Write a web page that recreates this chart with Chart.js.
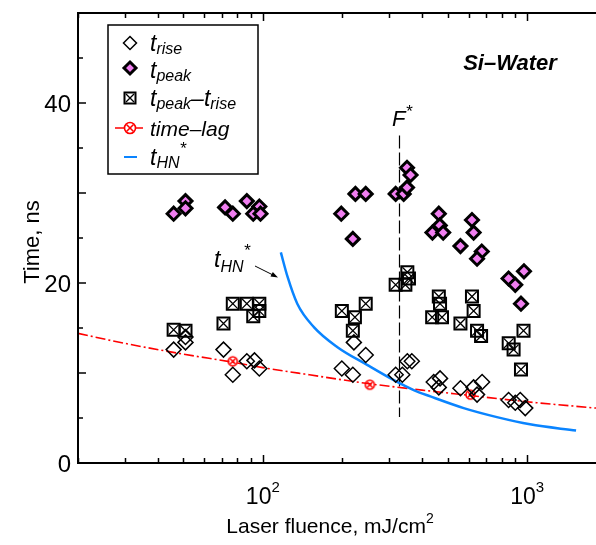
<!DOCTYPE html>
<html lang="en">
<head>
<meta charset="UTF-8" />
<title>Si–Water: time vs laser fluence</title>
<script src="https://cdn.jsdelivr.net/npm/chart.js"></script>
<style>
  body { margin: 0; background: #fff; }
  canvas { display: block; }
</style>
</head>
<body>
<canvas id="timeChart" width="596" height="545"></canvas>
<script>
// t_rise, open diamonds
const riseFluence = [46, 51, 51, 71, 77, 87, 93, 97, 199, 219, 221, 245, 318, 337, 352, 366, 443, 468, 463, 559, 627, 675, 646, 850, 901, 941, 983];
const riseTime    = [12.6, 14.0, 13.4, 12.6, 9.8, 11.3, 11.4, 10.5, 10.5, 9.8, 13.4, 12.0, 9.8, 9.8, 11.3, 11.3, 9.0, 9.4, 8.4, 8.3, 8.4, 9.0, 7.6, 7.0, 6.7, 7.0, 6.1];

// t_peak, filled diamonds
const peakFluence = [46, 51, 51, 72, 77, 87, 97, 92, 98, 198, 219, 224, 245, 318, 341, 351, 351, 362, 463, 467, 438, 481, 618, 627, 559, 673, 646, 850, 901, 972, 947];
const peakTime    = [27.7, 29.1, 28.3, 28.4, 27.7, 29.1, 28.5, 27.7, 27.7, 27.7, 24.9, 29.9, 29.9, 29.9, 29.9, 30.6, 32.8, 32.0, 27.7, 26.4, 25.6, 25.6, 27.0, 25.6, 24.1, 23.5, 22.7, 20.5, 19.8, 21.3, 17.7];

// t_peak - t_rise, boxed crosses
const diffFluence = [46, 51, 71, 77, 87, 97, 97, 92, 199, 219, 223, 245, 318, 346, 352, 357, 463, 468, 437, 476, 618, 627, 559, 646, 669, 851, 888, 968, 947];
const diffTime    = [14.8, 14.7, 15.5, 17.7, 17.7, 17.7, 16.9, 16.3, 16.9, 14.7, 16.2, 17.7, 19.8, 19.8, 21.2, 20.5, 18.5, 17.7, 16.2, 16.2, 18.5, 16.9, 15.5, 14.7, 14.1, 13.3, 12.6, 14.7, 10.4];

// time-lag points and their trend line
const lagFluence = [77, 254, 610];
const lagTime    = [11.3, 8.7, 7.6];
const lagFitFluence = [20, 30, 50, 77, 100, 150, 254, 400, 610, 1000, 1820];
const lagFitTime    = [14.4, 13.3, 12.1, 11.2, 10.6, 9.8, 8.8, 8.1, 7.5, 6.8, 6.1];

// t_HN* curve
const hnFluence = [117, 124, 135, 156, 191, 248, 313, 372, 430, 575, 768, 1024, 1530];
const hnTime    = [23.4, 20.7, 17.7, 15.1, 12.9, 10.9, 9.2, 8.1, 7.4, 6.1, 5.1, 4.3, 3.6];

const fStar = 327;
const xMin = 20, xMax = 1820, yMin = 0, yMax = 50;
const yLabels = [0, 20, 40];
const xLabels = [[100, '2'], [1000, '3']];

const FONT = '"Liberation Sans", Arial, sans-serif';
const PEAK_FILL = '#f07ef0';
const HN_BLUE = '#0a84ff';
const LAG_RED = '#ff0000';
const LAG_DASH = [10, 3, 2, 3];

const pts = (xs, ys) => xs.map((x, i) => ({ x: x, y: ys[i] }));

function circleCross(r) {
  const size = Math.ceil(2 * r + 4);
  const c = document.createElement('canvas');
  c.width = c.height = size;
  const g = c.getContext('2d');
  drawCircleCross(g, size / 2, size / 2, r);
  return c;
}

function drawCircleCross(g, x, y, r) {
  g.save();
  g.strokeStyle = LAG_RED;
  g.lineWidth = 1.6;
  g.setLineDash([]);
  g.beginPath();
  g.arc(x, y, r, 0, Math.PI * 2);
  g.stroke();
  const d = r * 0.6;
  g.beginPath();
  g.moveTo(x - d, y - d); g.lineTo(x + d, y + d);
  g.moveTo(x + d, y - d); g.lineTo(x - d, y + d);
  g.stroke();
  g.restore();
}

function diamond(g, x, y, r) {
  g.beginPath();
  g.moveTo(x, y - r); g.lineTo(x + r, y); g.lineTo(x, y + r); g.lineTo(x - r, y);
  g.closePath();
}

function boxCross(g, x, y, h) {
  g.save();
  g.strokeStyle = '#000';
  g.lineWidth = 2;
  g.strokeRect(x - h, y - h, 2 * h, 2 * h);
  g.lineWidth = 1.3;
  g.beginPath();
  g.moveTo(x - h + 1.5, y - h + 1.5); g.lineTo(x + h - 1.5, y + h - 1.5);
  g.moveTo(x + h - 1.5, y - h + 1.5); g.lineTo(x - h + 1.5, y + h - 1.5);
  g.stroke();
  g.restore();
}

// draws a run of text pieces: [text, size, dy, style]
function rich(g, x, y, parts, align) {
  let w = 0;
  parts.forEach(p => {
    g.font = `${p[3] || 'italic'} ${p[1]}px ${FONT}`;
    w += g.measureText(p[0]).width;
  });
  let cx = align === 'center' ? x - w / 2 : x;
  g.textAlign = 'left';
  g.textBaseline = 'alphabetic';
  parts.forEach(p => {
    g.font = `${p[3] || 'italic'} ${p[1]}px ${FONT}`;
    g.fillText(p[0], cx, y + (p[2] || 0));
    cx += g.measureText(p[0]).width;
  });
}

const lagImg = circleCross(4.5);

const framePlugin = {
  id: 'frame',
  beforeDatasetsDraw(chart) {
    const g = chart.ctx, sx = chart.scales.x, sy = chart.scales.y;
    // F* marker line
    const xf = Math.round(sx.getPixelForValue(fStar)) + 0.5;
    g.save();
    g.strokeStyle = '#000';
    g.lineWidth = 1.2;
    g.setLineDash([13, 4]);
    g.beginPath();
    g.moveTo(xf, sy.getPixelForValue(36.4));
    g.lineTo(xf, sy.getPixelForValue(5.1));
    g.stroke();
    g.restore();
  },
  afterDraw(chart) {
    const g = chart.ctx, a = chart.chartArea;
    const sx = chart.scales.x, sy = chart.scales.y;
    g.save();
    g.fillStyle = '#000';
    g.strokeStyle = '#000';

    // axes: left, bottom, top
    g.lineWidth = 2;
    g.beginPath();
    g.moveTo(a.right, a.top); g.lineTo(a.left, a.top); g.lineTo(a.left, a.bottom); g.lineTo(a.right, a.bottom);
    g.stroke();

    // y ticks, pointing inward
    g.lineWidth = 1.5;
    g.beginPath();
    for (let v = yMin; v <= yMax; v += 5) {
      const py = Math.round(sy.getPixelForValue(v));
      const len = v % 10 === 0 ? 8 : 5;
      g.moveTo(a.left, py); g.lineTo(a.left + len, py);
    }
    // x ticks on bottom and top
    for (let dec = 10; dec <= 1000; dec *= 10) {
      for (let k = 1; k <= 9; k++) {
        const v = dec * k;
        if (v < xMin || v > xMax) continue;
        const px = Math.round(sx.getPixelForValue(v)) + 0.5;
        const len = k === 1 ? 8 : 5;
        g.moveTo(px, a.bottom); g.lineTo(px, a.bottom - len);
        g.moveTo(px, a.top); g.lineTo(px, a.top + len);
      }
    }
    g.stroke();

    // tick labels
    g.font = `24px ${FONT}`;
    g.textAlign = 'right';
    g.textBaseline = 'alphabetic';
    yLabels.forEach(v => g.fillText(String(v), 71, sy.getPixelForValue(v) + 8.5));
    xLabels.forEach(([v, p]) => {
      rich(g, sx.getPixelForValue(v), 504, [['10', 23, 0, 'normal'], [p, 15, -12, 'normal']], 'center');
    });

    // axis titles
    rich(g, 330, 533, [['Laser fluence, mJ/cm', 21, 0, 'normal'], ['2', 14, -10, 'normal']], 'center');
    g.save();
    g.translate(39, 242);
    g.rotate(-Math.PI / 2);
    rich(g, 0, 0, [['Time, ns', 22, 0, 'normal']], 'center');
    g.restore();

    // sample label
    rich(g, 510, 70, [['Si–Water', 22, 0, 'italic bold']], 'center');

    // F* label
    rich(g, 392, 126, [['F', 22, 0], ['*', 17, -9]]);

    // t_HN* callout with arrow
    rich(g, 214, 267, [['t', 23, 0], ['HN', 16, 5], ['*', 17, -11]]);
    g.lineWidth = 1;
    g.beginPath();
    g.moveTo(255, 266); g.lineTo(275, 276);
    g.stroke();
    g.beginPath();
    g.moveTo(278, 277.5); g.lineTo(270.5, 276.6); g.lineTo(272.8, 272); g.closePath();
    g.fill();

    // legend box
    g.lineWidth = 1.5;
    g.fillStyle = '#fff';
    g.fillRect(108, 25, 150, 149);
    g.strokeRect(108, 25, 150, 149);
    g.fillStyle = '#000';

    const mx = 130, tx = 150;
    // rise
    diamond(g, mx, 43, 6.5);
    g.lineWidth = 1.5; g.strokeStyle = '#000'; g.stroke();
    rich(g, tx, 51, [['t', 23, 0], ['rise', 16, 3]]);
    // peak
    diamond(g, mx, 68, 6);
    g.fillStyle = PEAK_FILL; g.fill();
    g.lineWidth = 3; g.stroke();
    g.fillStyle = '#000';
    rich(g, tx, 78, [['t', 23, 0], ['peak', 16, 3]]);
    // peak - rise
    boxCross(g, mx, 98, 5.5);
    rich(g, tx, 106, [['t', 23, 0], ['peak', 16, 3], ['–t', 23, 0], ['rise', 16, 3]]);
    // time-lag
    g.save();
    g.strokeStyle = LAG_RED; g.lineWidth = 1.6; g.setLineDash(LAG_DASH);
    g.beginPath(); g.moveTo(115, 128); g.lineTo(143, 128); g.stroke();
    g.restore();
    g.fillStyle = '#fff';
    g.beginPath(); g.arc(mx, 128, 5.5, 0, Math.PI * 2); g.fill();
    drawCircleCross(g, mx, 128, 5.5);
    g.fillStyle = '#000';
    rich(g, tx, 136, [['time–lag', 21, 0]]);
    // t_HN*
    g.strokeStyle = HN_BLUE; g.lineWidth = 2;
    g.beginPath(); g.moveTo(124, 157); g.lineTo(137, 157); g.stroke();
    rich(g, tx, 165, [['t', 23, 0], ['HN', 16, 3], ['*', 17, -11]]);

    g.restore();
  }
};

new Chart(document.getElementById('timeChart'), {
  type: 'scatter',
  data: {
    datasets: [
      {
        label: 't_rise',
        data: pts(riseFluence, riseTime),
        pointStyle: 'rectRot',
        pointRadius: 7.5,
        borderColor: '#000',
        borderWidth: 1.5,
        backgroundColor: 'rgba(0,0,0,0)',
        order: 1
      },
      {
        label: 't_peak',
        data: pts(peakFluence, peakTime),
        pointStyle: 'rectRot',
        pointRadius: 6.5,
        borderColor: '#000',
        borderWidth: 3,
        backgroundColor: PEAK_FILL,
        order: 0
      },
      {
        // square outline of the t_peak - t_rise marker
        label: 't_peak - t_rise',
        data: pts(diffFluence, diffTime),
        pointStyle: 'rect',
        pointRadius: 8.5,
        borderColor: '#000',
        borderWidth: 2,
        backgroundColor: 'rgba(0,0,0,0)',
        order: 2
      },
      {
        // the cross inside it
        label: 't_peak - t_rise cross',
        data: pts(diffFluence, diffTime),
        pointStyle: 'crossRot',
        pointRadius: 7,
        borderColor: '#000',
        borderWidth: 1.3,
        order: 2
      },
      {
        label: 'time-lag',
        data: pts(lagFluence, lagTime),
        pointStyle: lagImg,
        order: 3
      },
      {
        label: 'time-lag fit',
        data: pts(lagFitFluence, lagFitTime),
        showLine: true,
        pointRadius: 0,
        borderColor: LAG_RED,
        borderWidth: 1.6,
        borderDash: LAG_DASH,
        cubicInterpolationMode: 'monotone',
        order: 5
      },
      {
        label: 't_HN*',
        data: pts(hnFluence, hnTime),
        showLine: true,
        pointRadius: 0,
        borderColor: HN_BLUE,
        borderWidth: 2.5,
        cubicInterpolationMode: 'monotone',
        order: 4
      }
    ]
  },
  options: {
    responsive: false,
    animation: false,
    devicePixelRatio: 1,
    layout: { autoPadding: false, padding: { left: 78, top: 13, right: 0, bottom: 82 } },
    plugins: { legend: { display: false }, tooltip: { enabled: false } },
    scales: {
      x: { type: 'logarithmic', min: xMin, max: xMax, display: false },
      y: { type: 'linear', min: yMin, max: yMax, display: false }
    }
  },
  plugins: [framePlugin]
});
</script>
</body>
</html>
